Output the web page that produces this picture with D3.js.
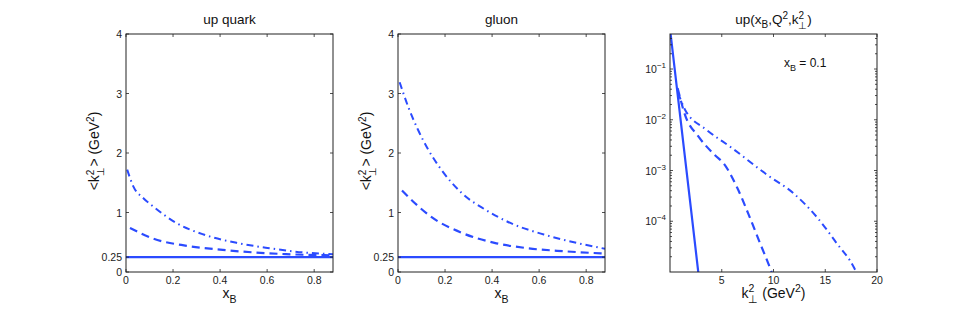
<!DOCTYPE html>
<html>
<head>
<meta charset="utf-8">
<script src="https://cdn.jsdelivr.net/npm/d3@7"></script>
<style>
  body { margin: 0; background: #fff; }
  svg { font-family: "Liberation Sans", Arial, sans-serif; }
</style>
</head>
<body>
<div id="chart-container"></div>
<script>
// <k_perp^2> vs x_B
const quarkX = [0.005, 0.031, 0.074, 0.116, 0.215, 0.33, 0.47, 0.61, 0.75, 0.88];
const quarkDashDot = [1.72, 1.44, 1.24, 1.10, 0.82, 0.63, 0.49, 0.40, 0.33, 0.30];
const quarkDashX = [0.017, 0.116, 0.258, 0.40, 0.54, 0.68, 0.88];
const quarkDash = [0.74, 0.56, 0.44, 0.375, 0.33, 0.30, 0.28];

const gluonX = [0.007, 0.043, 0.085, 0.128, 0.184, 0.27, 0.37, 0.48, 0.62, 0.77, 0.88];
const gluonDashDot = [3.19, 2.78, 2.39, 2.06, 1.72, 1.33, 1.05, 0.82, 0.63, 0.48, 0.39];
const gluonDashX = [0.017, 0.071, 0.14, 0.27, 0.41, 0.55, 0.70, 0.88];
const gluonDash = [1.37, 1.16, 0.93, 0.66, 0.49, 0.40, 0.35, 0.31];

const flatX = [0, 0.88];
const flatY = [0.25, 0.25];

// up(x_B, Q^2, k_perp^2) at x_B = 0.1
const kSolidX = [0, 1, 2, 2.8];
const kSolid = [0.62, 0.011, 1.95e-4, 7.5e-6];
const kDashX = [0.74, 1.45, 2.74, 4.35, 5.16, 6.45, 7.57, 8.7, 9.74, 10.1];
const kDash = [0.042, 0.0125, 0.0047, 0.0020, 0.0014, 4.8e-4, 1.4e-4, 3.7e-5, 1.1e-5, 7e-6];
const kDashDotX = [0.78, 1.45, 3.55, 5.96, 9.35, 11.9, 14.2, 16.1, 17.8, 18.2];
const kDashDot = [0.034, 0.0158, 0.0063, 0.0028, 8.3e-4, 3.6e-4, 1.2e-4, 3.7e-5, 1.2e-5, 8e-6];

const xTicksLin = [0, 0.2, 0.4, 0.6, 0.8];
const yTicksLin = [0, 0.25, 1, 2, 3, 4];
const xTicksK = [5, 10, 15, 20];
const yTicksLog = [1e-4, 1e-3, 1e-2, 1e-1];

const blue = "#2b4bff";
const dashStyle = "8,5";
const dashDotStyle = "7,4,1.5,4";

const svg = d3.select("#chart-container").append("svg")
    .attr("width", 969).attr("height", 310);

const plotTop = 34, plotBottom = 272;
let clipId = 0;

function zip(xs, ys) { return xs.map((x, i) => [x, ys[i]]); }

function drawPanel(p) {
    const g = svg.append("g");
    const x = p.x, y = p.y;
    const id = "clip" + (clipId++);
    g.append("clipPath").attr("id", id).append("rect")
        .attr("x", x.range()[0]).attr("y", plotTop)
        .attr("width", x.range()[1] - x.range()[0]).attr("height", plotBottom - plotTop);

    const line = d3.line().x(d => x(d[0])).y(d => y(d[1])).curve(d3.curveMonotoneX);
    const plot = g.append("g").attr("clip-path", `url(#${id})`);
    p.series.forEach(s => {
        plot.append("path")
            .attr("d", line(s.pts))
            .attr("fill", "none")
            .attr("stroke", blue)
            .attr("stroke-width", s.w)
            .attr("stroke-dasharray", s.dash);
    });

    const x0 = x.range()[0], x1 = x.range()[1];
    // inward ticks on all four sides
    const ax = g.append("g").attr("stroke", "#222").attr("stroke-width", 0.8);
    p.xTicks.forEach(t => {
        ax.append("line").attr("x1", x(t)).attr("x2", x(t)).attr("y1", plotBottom).attr("y2", plotBottom - 3);
        ax.append("line").attr("x1", x(t)).attr("x2", x(t)).attr("y1", plotTop).attr("y2", plotTop + 3);
    });
    p.yTicks.forEach(t => {
        ax.append("line").attr("x1", x0).attr("x2", x0 + 3).attr("y1", y(t)).attr("y2", y(t));
        ax.append("line").attr("x1", x1).attr("x2", x1 - 3).attr("y1", y(t)).attr("y2", y(t));
    });
    (p.minorY || []).forEach(t => {
        ax.append("line").attr("x1", x0).attr("x2", x0 + 2).attr("y1", y(t)).attr("y2", y(t));
        ax.append("line").attr("x1", x1).attr("x2", x1 - 2).attr("y1", y(t)).attr("y2", y(t));
    });
    g.append("rect").attr("x", x0).attr("y", plotTop)
        .attr("width", x1 - x0).attr("height", plotBottom - plotTop)
        .attr("fill", "none").attr("stroke", "#222").attr("stroke-width", 1);

    p.xTicks.forEach(t => {
        g.append("text").attr("x", x(t)).attr("y", plotBottom + 12)
            .attr("text-anchor", "middle").attr("font-size", 10.5).attr("fill", "#222")
            .text(p.xFmt(t));
    });
    p.yTicks.forEach(t => {
        const tx = g.append("text").attr("x", x0 - 4).attr("y", y(t) + 4)
            .attr("text-anchor", "end").attr("font-size", 10.5).attr("fill", "#222");
        p.yFmt(tx, t);
    });

    const cx = (x0 + x1) / 2;
    p.title(g.append("text").attr("x", cx).attr("y", 24)
        .attr("text-anchor", "middle").attr("font-size", 13.5).attr("fill", "#111"));
    p.xLabel(g.append("text").attr("x", cx).attr("y", 298)
        .attr("text-anchor", "middle").attr("font-size", 14).attr("fill", "#111"));
    if (p.yLabel) {
        p.yLabel(g.append("text")
            .attr("transform", `translate(${x0 - 27},${(plotTop + plotBottom) / 2 - 2}) rotate(-90)`)
            .attr("text-anchor", "middle").attr("font-size", 14).attr("fill", "#111"));
    }
    return g;
}

function kLabel(t) {
    t.append("tspan").text("<k");
    t.append("tspan").attr("dy", -5).attr("font-size", 10).text("2");
    t.append("tspan").attr("dx", -6).attr("dy", 10).attr("font-size", 10).text("⊥");
    t.append("tspan").attr("dy", -5).text("> (GeV");
    t.append("tspan").attr("dy", -5).attr("font-size", 10).text("2");
    t.append("tspan").attr("dy", 5).text(")");
}
function xBLabel(t) {
    t.append("tspan").text("x");
    t.append("tspan").attr("dy", 5).attr("font-size", 10.5).text("B");
}
const linY = (t, v) => t.text(v === 0.25 ? "0.25" : d3.format("d")(v));
const linX = v => v === 0 ? "0" : d3.format(".1f")(v);

const yLin = d3.scaleLinear().domain([0, 4]).range([plotBottom, plotTop]);

drawPanel({
    x: d3.scaleLinear().domain([0, 0.88]).range([126, 333]),
    y: yLin, xTicks: xTicksLin, yTicks: yTicksLin, xFmt: linX, yFmt: linY,
    series: [
        { pts: zip(flatX, flatY), w: 2.2, dash: null },
        { pts: zip(quarkDashX, quarkDash), w: 2.2, dash: dashStyle },
        { pts: zip(quarkX, quarkDashDot), w: 2, dash: dashDotStyle }
    ],
    title: t => t.text("up quark"), xLabel: xBLabel, yLabel: kLabel
});

drawPanel({
    x: d3.scaleLinear().domain([0, 0.88]).range([398, 605]),
    y: yLin, xTicks: xTicksLin, yTicks: yTicksLin, xFmt: linX, yFmt: linY,
    series: [
        { pts: zip(flatX, flatY), w: 2.2, dash: null },
        { pts: zip(gluonDashX, gluonDash), w: 2.2, dash: dashStyle },
        { pts: zip(gluonX, gluonDashDot), w: 2, dash: dashDotStyle }
    ],
    title: t => t.text("gluon"), xLabel: xBLabel, yLabel: kLabel
});

const yLog = d3.scaleLog().domain([1e-5, 0.49]).range([plotBottom, plotTop]);
const minorLog = [];
[1e-5, 1e-4, 1e-3, 1e-2, 1e-1].forEach(d => {
    for (let m = 2; m <= 9; m++) if (d * m < 0.49) minorLog.push(d * m);
});

const g3 = drawPanel({
    x: d3.scaleLinear().domain([0, 20]).range([670, 877]),
    y: yLog, xTicks: xTicksK, yTicks: yTicksLog, minorY: minorLog,
    xFmt: v => String(v),
    yFmt: (t, v) => {
        t.append("tspan").text("10");
        t.append("tspan").attr("dy", -5).attr("font-size", 8).text("−" + Math.round(-Math.log10(v)));
    },
    series: [
        { pts: zip(kSolidX, kSolid), w: 2.2, dash: null },
        { pts: zip(kDashX, kDash), w: 2.2, dash: dashStyle },
        { pts: zip(kDashDotX, kDashDot), w: 2, dash: dashDotStyle }
    ],
    title: t => {
        t.append("tspan").text("up(x");
        t.append("tspan").attr("dy", 4).attr("font-size", 10).text("B");
        t.append("tspan").attr("dy", -4).text(",Q");
        t.append("tspan").attr("dy", -5).attr("font-size", 10).text("2");
        t.append("tspan").attr("dy", 5).text(",k");
        t.append("tspan").attr("dy", -5).attr("font-size", 10).text("2");
        t.append("tspan").attr("dx", -6).attr("dy", 10).attr("font-size", 10).text("⊥");
        t.append("tspan").attr("dy", -5).text(")");
    },
    xLabel: t => {
        t.append("tspan").text("k");
        t.append("tspan").attr("dy", -6).attr("font-size", 10.5).text("2");
        t.append("tspan").attr("dx", -6).attr("dy", 11).attr("font-size", 10.5).text("⊥");
        t.append("tspan").attr("dy", -5).text(" (GeV");
        t.append("tspan").attr("dy", -6).attr("font-size", 10.5).text("2");
        t.append("tspan").attr("dy", 6).text(")");
    }
});

const note = g3.append("text").attr("x", 784).attr("y", 67)
    .attr("font-size", 12).attr("fill", "#111");
note.append("tspan").text("x");
note.append("tspan").attr("dy", 4).attr("font-size", 9).text("B");
note.append("tspan").attr("dy", -4).text(" = 0.1");
</script>
</body>
</html>
